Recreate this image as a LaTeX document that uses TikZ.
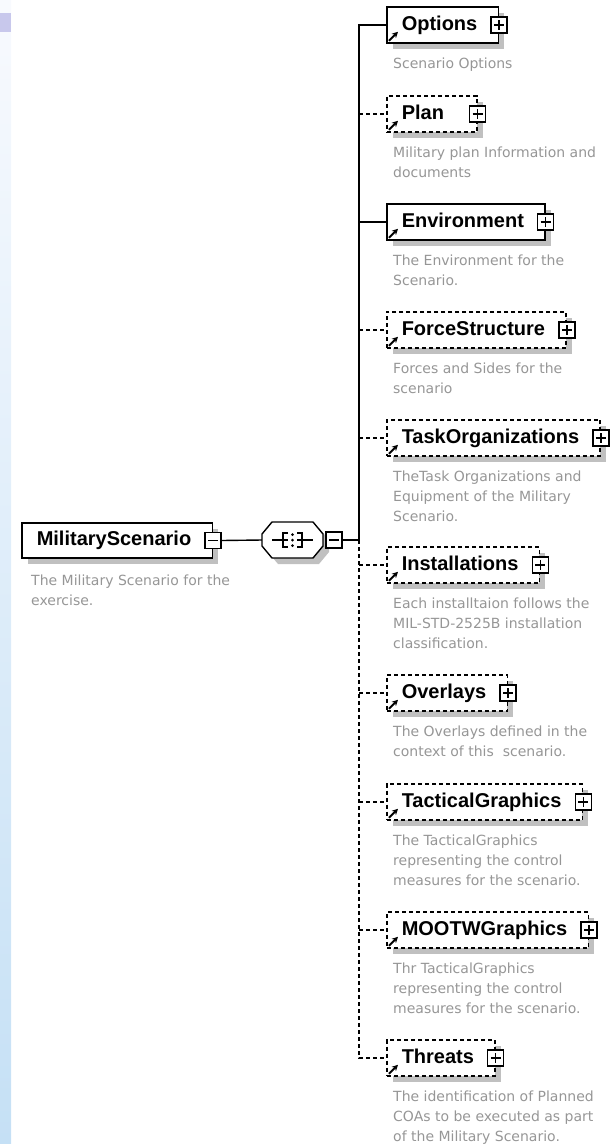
\documentclass[tikz,border=0pt]{standalone}
\usepackage{fontspec}
\setmainfont{DejaVu Sans}
\newfontfamily\titlefam{Liberation Sans}
\usetikzlibrary{arrows.meta,shadows,calc}
\definecolor{shadowc}{RGB}{192,192,192}
\definecolor{descc}{RGB}{150,150,150}
\definecolor{stripTop}{RGB}{248,250,254}
\definecolor{stripBot}{RGB}{197,224,245}
\definecolor{markc}{RGB}{200,200,236}
\newcommand\titlef{\titlefam\fontsize{20}{23}\selectfont\bfseries}
\newcommand\descf{\fontsize{14}{20}\selectfont}
\begin{document}
\begin{tikzpicture}[x=1pt,y=-1pt,
  elem/.style={draw=black, line width=1.5pt, fill=white, minimum height=36pt,
    text height=14pt, text depth=3.5pt, inner xsep=0pt, inner ysep=0pt, anchor=west,
    font=\titlef, execute at begin node={\hspace*{15pt}}, execute at end node={\hspace*{21pt}},
    general shadow={fill=shadowc, shadow xshift=6pt, shadow yshift=-6pt}},
  optel/.style={elem, dash pattern=on 4pt off 3pt},
  desc/.style={anchor=north west, inner sep=0pt, align=left, text=descc, font=\descf},
  pm/.style={draw=black, fill=white, line width=1.3pt, minimum size=16pt, inner sep=0pt},
  plus/.style={pm, path picture={\draw[line width=1.3pt]
      ([xshift=3pt]path picture bounding box.west) -- ([xshift=-3pt]path picture bounding box.east)
      ([yshift=-3pt]path picture bounding box.north) -- ([yshift=3pt]path picture bounding box.south);}},
  minus/.style={pm, path picture={\draw[line width=1.3pt]
      ([xshift=3pt]path picture bounding box.west) -- ([xshift=-3pt]path picture bounding box.east);}},
  refarrow/.style={-{Stealth[length=6pt,width=6pt]}, line width=1.8pt},
  conn/.style={draw=black, line width=1.4pt},
  dconn/.style={conn, dash pattern=on 4pt off 3pt}
]
\useasboundingbox (0,0) rectangle (613,1144);
% left strip
\shade[top color=stripTop, bottom color=stripBot] (0,0) rectangle (11,1144);
\fill[markc] (0,13) rectangle (11,32);

% root element
\node[elem, minimum height=35pt] (ms) at (21,540.5) {MilitaryScenario};
\node[minus] (msm) at (ms.east) {};
\node[desc] (msd) at (31,575) {The Military Scenario for the\\exercise.};

% sequence compositor
\begin{scope}[shift={(6,6)}]
\fill[shadowc] (272,522) -- (313,522) -- (323,534) -- (323,546) -- (313,558) -- (272,558) -- (262,546) -- (262,534) -- cycle;
\end{scope}
\draw[conn, fill=white] (272,522) -- (313,522) -- (323,534) -- (323,546) -- (313,558) -- (272,558) -- (262,546) -- (262,534) -- cycle;
\node[inner sep=0pt, minimum width=61pt, minimum height=36pt] (seq) at (292.5,540) {};
\draw[line width=1.2pt] (272,540) -- (288,540) (297,540) -- (313,540);
\draw[line width=1.2pt] (288,533) -- (283,533) -- (283,547) -- (288,547);
\draw[line width=1.2pt] (297,533) -- (302,533) -- (302,547) -- (297,547);
\fill (292.5,534.5) circle (1.5) (292.5,540) circle (1.5) (292.5,545.5) circle (1.5);
\node[minus, anchor=west] (seqm) at ([xshift=2pt]seq.east) {};
\coordinate (j) at (359,540);

% children
\node[elem]  (c1)  at (386,25)   {Options};
\node[optel] (c2)  at (386,114)  {Plan\hspace*{12pt}};
\node[elem]  (c3)  at (386,222)  {Environment};
\node[optel] (c4)  at (386,330)  {ForceStructure};
\node[optel] (c5)  at (386,438)  {TaskOrganizations};
\node[optel] (c6)  at (386,565)  {Installations};
\node[optel] (c7)  at (386,693)  {Overlays};
\node[optel] (c8)  at (386,802)  {TacticalGraphics};
\node[optel] (c9)  at (386,930)  {MOOTWGraphics};
\node[optel] (c10) at (386,1058) {Threats};

\foreach \n in {c1,c2,c3,c4,c5,c6,c7,c8,c9,c10}{
  \node[plus] at (\n.east) {};
  \draw[refarrow] ([shift={(3,-3)}]\n.south west) -- ++(9,-9);
}

\node[desc] (d1)  at (393,58)   {Scenario Options};
\node[desc] (d2)  at (393,147)  {Military plan Information and\\documents};
\node[desc] (d3)  at (393,255)  {The Environment for the\\Scenario.};
\node[desc] (d4)  at (393,363)  {Forces and Sides for the\\scenario};
\node[desc] (d5)  at (393,471)  {TheTask Organizations and\\Equipment of the Military\\Scenario.};
\node[desc] (d6)  at (393,598)  {Each installtaion follows the\\MIL-STD-2525B installation\\classification.};
\node[desc] (d7)  at (393,726)  {The Overlays defined in the\\context of this\ \ scenario.};
\node[desc] (d8)  at (393,835)  {The TacticalGraphics\\representing the control\\measures for the scenario.};
\node[desc] (d9)  at (393,963)  {Thr TacticalGraphics\\representing the control\\measures for the scenario.};
\node[desc] (d10) at (393,1091) {The identification of Planned\\COAs to be executed as part\\of the Military Scenario.};

% connectors
\draw[conn] (msm.east) -- (seq.west);
\draw[conn] (seqm.east) -- (j);
\draw[conn] (j) |- (c1.west);
\draw[conn] (j) |- (c3.west);
\draw[dconn] (j) |- (c10.west);
\foreach \n in {c2,c4,c5,c6,c7,c8,c9}{
  \draw[dconn] (\n.west -| j) -- (\n.west);
}
\end{tikzpicture}
\end{document}
